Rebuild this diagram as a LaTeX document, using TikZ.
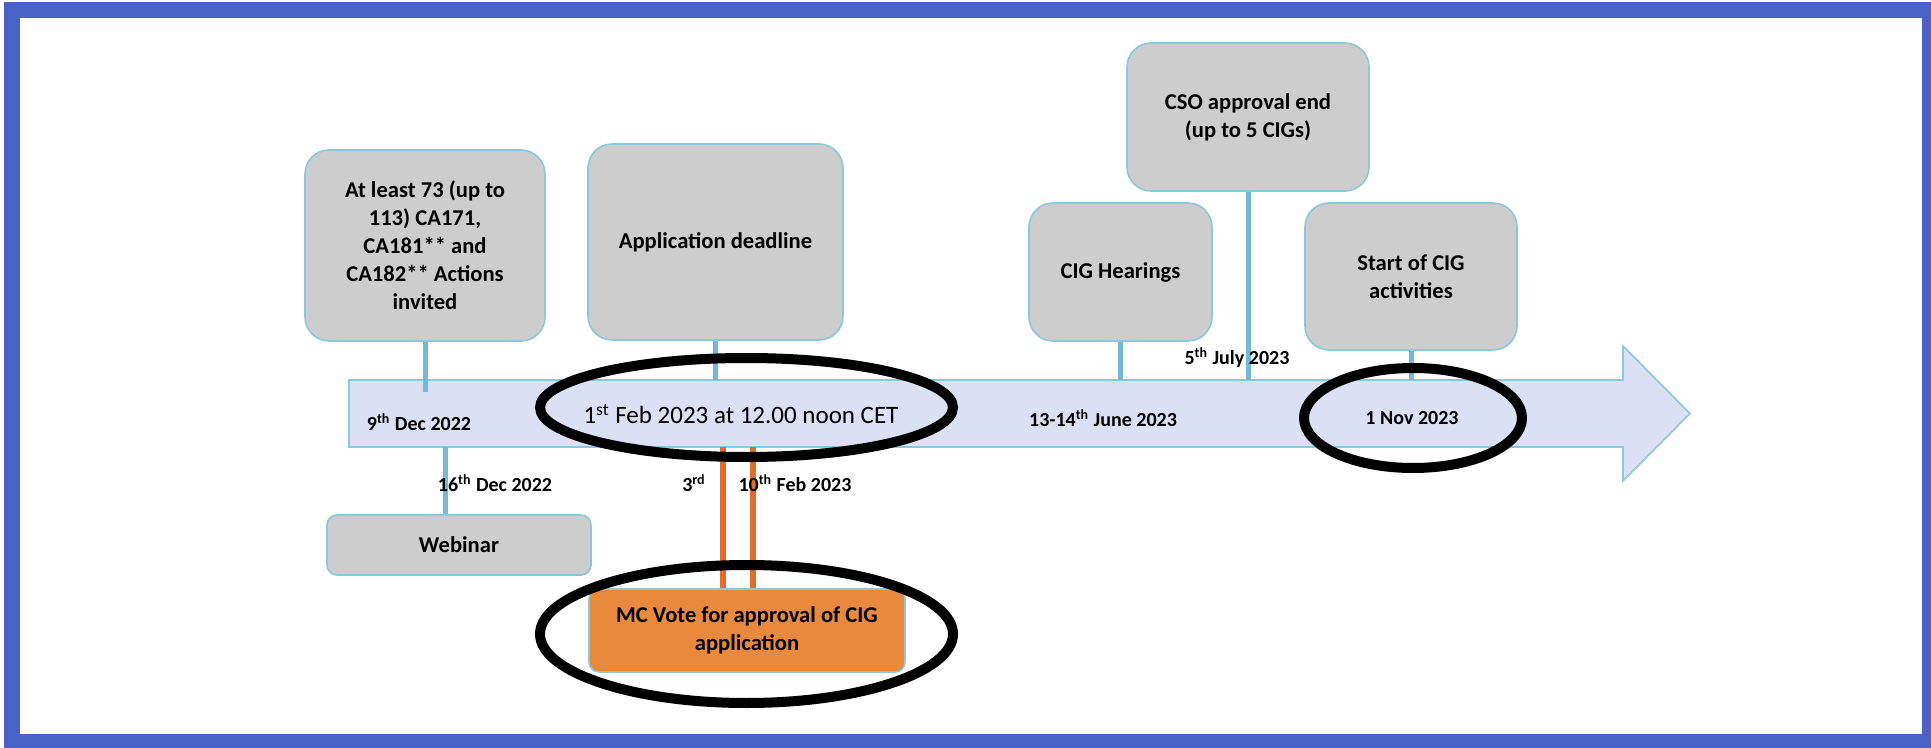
\documentclass[tikz,border=0pt]{standalone}
\usepackage{fontspec}
\setmainfont{Carlito}
\usetikzlibrary{positioning}
\definecolor{framecol}{RGB}{74,98,200}
\definecolor{boxgray}{RGB}{205,205,205}
\definecolor{boxline}{RGB}{140,200,220}
\definecolor{stemcol}{RGB}{112,188,214}
\definecolor{lanecol}{RGB}{220,224,245}
\definecolor{votefill}{RGB}{232,137,60}
\definecolor{votestem}{RGB}{228,108,42}
\newcommand{\ord}[1]{\textsuperscript{#1}}

\begin{document}
\begin{tikzpicture}[x=0.5pt, y=-0.5pt,
    event/.style={draw=boxline, fill=boxgray, line width=0.8pt, rounded corners=12pt,
      align=center, font=\bfseries\fontsize{11.3}{14}\selectfont},
    flatbox/.style={event, rounded corners=5pt},
    stemline/.style={color=stemcol, line width=2.5pt},
    votestemline/.style={color=votestem, line width=3pt},
    datelabel/.style={font=\bfseries\fontsize{10}{12}\selectfont},
    ring/.style={draw=black, line width=5pt}]
    \useasboundingbox (0,0) rectangle (1931,748);
    % frame
    \fill[framecol] (4,2) rectangle (1931,748);
    \fill[white] (20,18) rectangle (1922,734);

    % time line
    \draw[draw=boxline, fill=lanecol, line width=0.8pt] (349,380) -- (1623,380) --
    (1623,346) -- (1690,413.5) -- (1623,481) -- (1623,447) -- (349,447) -- cycle;
    \coordinate (lanetop) at (349,380);
    \coordinate (lanebot) at (349,447);

    % events above
    \node[event, minimum width=120pt, minimum height=95.5pt] (invite) at (425,245.5)
    {At least 73 (up to\\113) CA171,\\CA181** and\\CA182** Actions\\invited};
    \node[event, minimum width=127.5pt, minimum height=98pt] (deadline) at (715.5,242)
    {Application deadline};
    \node[event, minimum width=91.5pt, minimum height=69pt] (hearings) at (1120.5,272)
    {CIG Hearings};
    \node[event, minimum width=121pt, minimum height=74pt] (cso) at (1248,117)
    {CSO approval end\\(up to 5 CIGs)};
    \node[event, minimum width=106pt, minimum height=73.5pt] (start) at (1411,276.5)
    {Start of CIG\\activities};

    % events below
    \node[flatbox, minimum width=132pt, minimum height=30pt] (webinar) at (459,545) {Webinar};
    \node[flatbox, fill=votefill, minimum width=158pt, minimum height=41.5pt] (vote) at (747,630.5)
    {MC Vote for approval of CIG\\application};

    % stems
    \draw[stemline] (invite.south) -- (invite.south |- 0,392);
    \foreach \ev in {deadline, hearings, cso, start}
      \draw[stemline] (\ev.south) -- (\ev.south |- lanetop);
    \coordinate (webfoot) at (445,447);
    \draw[stemline] (webfoot) -- (webfoot |- webinar.north);
    \foreach \x/\n in {723/a, 753/b} {
      \coordinate (vote\n) at (\x,447);
      \draw[votestemline] (vote\n) -- (vote\n |- vote.north);
    }

    % dates
    \node[datelabel] (dec9) at (419,422) {9\ord{th} Dec 2022};
    \node[font=\fontsize{12.5}{14}\selectfont] (feb1) at (741,414) {1\ord{st} Feb 2023 at 12.00 noon CET};
    \node[datelabel] (june) at (1103,418) {13-14\ord{th} June 2023};
    \node[datelabel] (nov1) at (1412,418) {1 Nov 2023};
    \node[datelabel] (july5) at (1237,358) {5\ord{th} July 2023};
    \node[datelabel] (dec16) at (495,483) {16\ord{th} Dec 2022};
    \node[datelabel] (feb3) at (694,483) {3\ord{rd}};
    \node[datelabel] (feb10) at (795,483) {10\ord{th} Feb 2023};

    % marks
    \draw[ring] (746.5,407.5) ellipse [x radius=103.25pt, y radius=24.75pt];
    \draw[ring] (746.5,634) ellipse [x radius=103.25pt, y radius=34.5pt];
    \draw[ring] (1413,418) ellipse [x radius=54.5pt, y radius=25pt];
\end{tikzpicture}
\end{document}
